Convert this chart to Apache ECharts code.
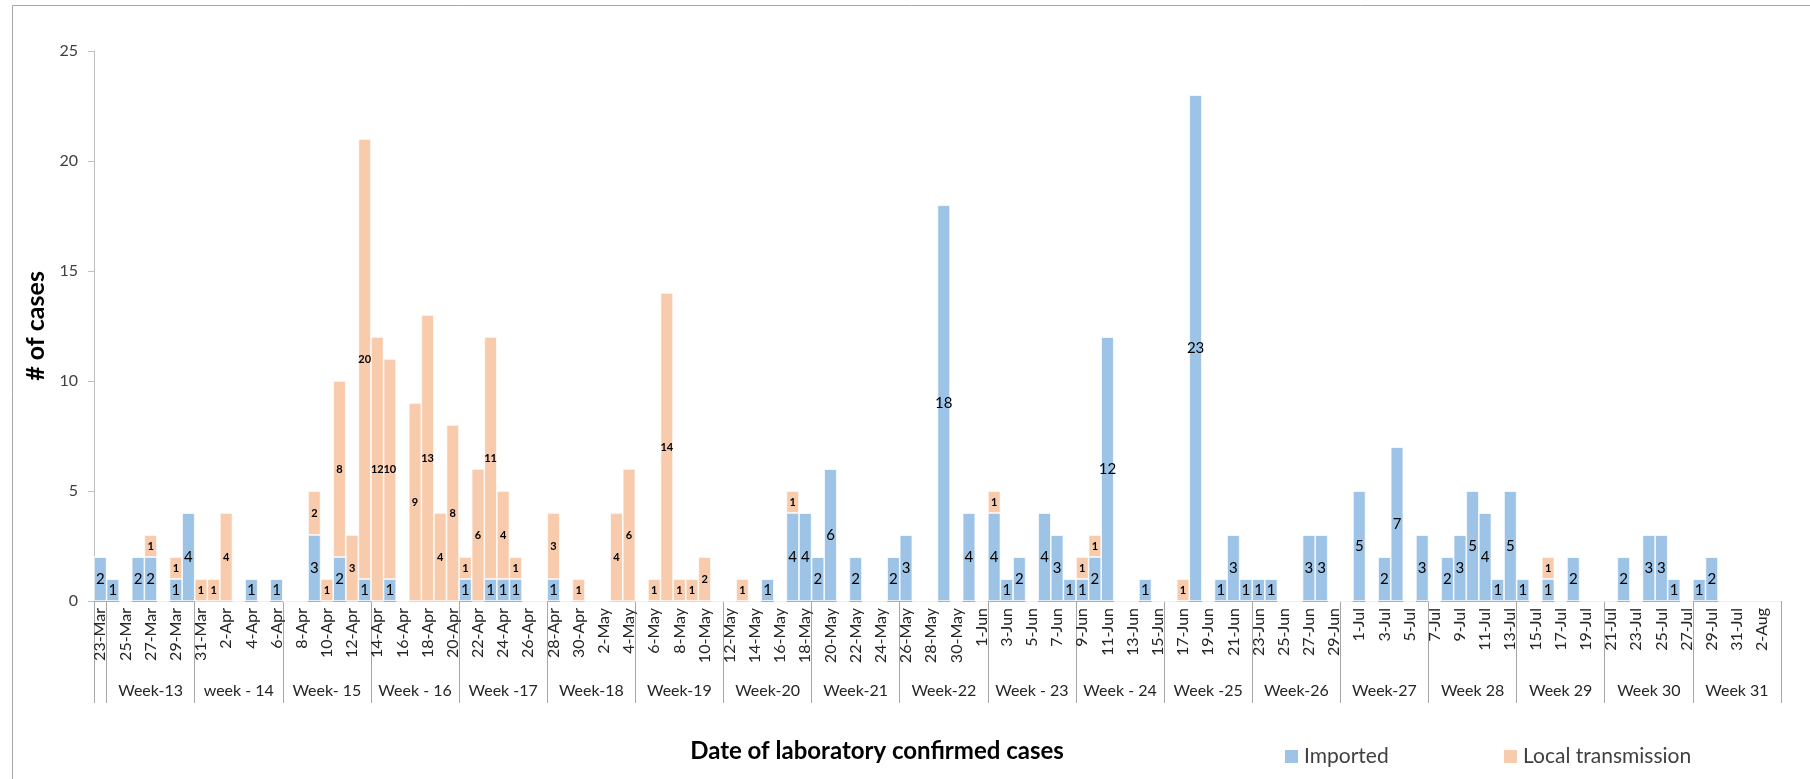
<!DOCTYPE html>
<html>
<head>
<meta charset="utf-8">
<script src="https://cdn.jsdelivr.net/npm/echarts@6/dist/echarts.min.js"></script>
<style>
html,body{margin:0;padding:0;background:#fff;}
#chart{width:1810px;height:779px;}
</style>
</head>
<body>
<div id="chart"></div>
<script>
// ---- DATA ----
var dayLabels = [
 '23-Mar','24-Mar','25-Mar','26-Mar','27-Mar','28-Mar','29-Mar','30-Mar','31-Mar',
 '1-Apr','2-Apr','3-Apr','4-Apr','5-Apr','6-Apr','7-Apr','8-Apr','9-Apr','10-Apr',
 '11-Apr','12-Apr','13-Apr','14-Apr','15-Apr','16-Apr','17-Apr','18-Apr','19-Apr','20-Apr',
 '21-Apr','22-Apr','23-Apr','24-Apr','25-Apr','26-Apr','27-Apr','28-Apr','29-Apr','30-Apr',
 '1-May','2-May','3-May','4-May','5-May','6-May','7-May','8-May','9-May','10-May',
 '11-May','12-May','13-May','14-May','15-May','16-May','17-May','18-May','19-May','20-May',
 '21-May','22-May','23-May','24-May','25-May','26-May','27-May','28-May','29-May','30-May','31-May',
 '1-Jun','2-Jun','3-Jun','4-Jun','5-Jun','6-Jun','7-Jun','8-Jun','9-Jun','10-Jun',
 '11-Jun','12-Jun','13-Jun','14-Jun','15-Jun','16-Jun','17-Jun','18-Jun','19-Jun','20-Jun',
 '21-Jun','22-Jun','23-Jun','24-Jun','25-Jun','26-Jun','27-Jun','28-Jun','29-Jun','30-Jun',
 '1-Jul','2-Jul','3-Jul','4-Jul','5-Jul','6-Jul','7-Jul','8-Jul','9-Jul','10-Jul',
 '11-Jul','12-Jul','13-Jul','14-Jul','15-Jul','16-Jul','17-Jul','18-Jul','19-Jul','20-Jul',
 '21-Jul','22-Jul','23-Jul','24-Jul','25-Jul','26-Jul','27-Jul','28-Jul','29-Jul','30-Jul','31-Jul',
 '1-Aug','2-Aug','3-Aug'
];
var imported = [
 2,1,0,2,2,0,1,4,0,
 0,0,0,1,0,1,0,0,3,0,
 2,0,1,0,1,0,0,0,0,0,
 1,0,1,1,1,0,0,1,0,0,
 0,0,0,0,0,0,0,0,0,0,
 0,0,0,0,1,0,4,4,2,6,
 0,2,0,0,2,3,0,0,18,0,4,
 0,4,1,2,0,4,3,1,1,2,
 12,0,0,1,0,0,0,23,0,1,
 3,1,1,1,0,0,3,3,0,0,
 5,0,2,7,0,3,0,2,3,5,
 4,1,5,1,0,1,0,2,0,0,
 0,2,0,3,3,1,0,1,2,0,0,
 0,0,0
];
var local = [
 0,0,0,0,1,0,1,0,1,
 1,4,0,0,0,0,0,0,2,1,
 8,3,20,12,10,0,9,13,4,8,
 1,6,11,4,1,0,0,3,0,1,
 0,0,4,6,0,1,14,1,1,2,
 0,0,1,0,0,0,1,0,0,0,
 0,0,0,0,0,0,0,0,0,0,0,
 0,1,0,0,0,0,0,0,1,1,
 0,0,0,0,0,0,1,0,0,0,
 0,0,0,0,0,0,0,0,0,0,
 0,0,0,0,0,0,0,0,0,0,
 0,0,0,0,0,1,0,0,0,0,
 0,0,0,0,0,0,0,0,0,0,0,
 0,0,0
];
var weekLabels = ['Week-13','week - 14','Week- 15','Week - 16','Week -17','Week-18','Week-19',
 'Week-20','Week-21','Week-22','Week - 23','Week - 24','Week -25','Week-26','Week-27',
 'Week 28','Week 29','Week 30','Week 31'];
var weekBounds = [0,1,8,15,22,29,36,43,50,57,64,71,78,85,92,99,106,113,120,127,134];
var yTicks = [0,5,10,15,20,25];

// ---- derived ----
var weekCenters = [];
for (var i = 0; i < weekLabels.length; i++) {
  weekCenters.push((weekBounds[i + 1] + weekBounds[i + 2]) / 2);
}

var FONT = 'Lato, "Open Sans", sans-serif';
var BLUE = '#9DC3E6', ORANGE = '#F8CBAD';
var chart = echarts.init(document.getElementById('chart'));
chart.setOption({
  animation: false,
  backgroundColor: '#fff',
  textStyle: { fontFamily: FONT },
  grid: { left: 94, right: 29, top: 51, bottom: 178 },
  legend: [
    { data: ['Imported'], left: 1278, top: 741, icon: 'rect', itemWidth: 15, itemHeight: 15,
      itemGap: 8, textStyle: { fontSize: 21, color: '#404040', fontFamily: FONT } },
    { data: ['Local transmission'], left: 1497, top: 741, icon: 'rect', itemWidth: 15, itemHeight: 15,
      itemGap: 8, textStyle: { fontSize: 21, color: '#404040', fontFamily: FONT } }
  ],
  xAxis: [
    {
      type: 'category', data: dayLabels, boundaryGap: true,
      axisLine: { lineStyle: { color: '#A6A6A6', width: 1 } },
      axisTick: { show: false },
      axisLabel: { interval: 1, rotate: 90, fontSize: 16, color: '#262626', margin: 7, fontFamily: FONT },
      splitLine: { show: false }
    },
    {
      type: 'value', min: 0, max: weekBounds[weekBounds.length - 1], position: 'bottom',
      axisLine: { show: false },
      splitLine: { show: false },
      axisTick: { show: true, customValues: weekBounds, length: 102, lineStyle: { color: '#A6A6A6', width: 1 } },
      axisLabel: {
        customValues: weekCenters, margin: 82, fontSize: 16, color: '#262626', fontFamily: FONT,
        formatter: function (v) {
          var k = weekCenters.indexOf(v);
          return k >= 0 ? weekLabels[k] : '';
        }
      }
    }
  ],
  yAxis: {
    type: 'value', min: yTicks[0], max: yTicks[yTicks.length - 1], interval: 5,
    name: '# of cases', nameLocation: 'middle', nameGap: 40, nameRotate: 90,
    nameTextStyle: { fontSize: 25, fontWeight: 'bold', color: '#000', fontFamily: FONT },
    axisLine: { show: true, lineStyle: { color: '#BFBFBF' } },
    axisTick: { show: true, length: 6, lineStyle: { color: '#BFBFBF' } },
    axisLabel: { fontSize: 16, color: '#404040', margin: 16, fontFamily: FONT },
    splitLine: { show: false }
  },
  series: [
    {
      name: 'Imported', type: 'bar', stack: 'cases', data: imported, xAxisIndex: 0,
      barCategoryGap: '0%',
      itemStyle: { color: BLUE, borderColor: '#fff', borderWidth: 0.7 },
      label: { show: true, position: 'inside', fontSize: 15, color: '#000', fontFamily: FONT,
        formatter: function (p) { return p.value > 0 ? String(p.value) : ''; } }
    },
    {
      name: 'Local transmission', type: 'bar', stack: 'cases', data: local, xAxisIndex: 0,
      barCategoryGap: '0%',
      itemStyle: { color: ORANGE, borderColor: '#fff', borderWidth: 0.7 },
      label: { show: true, position: 'inside', fontSize: 11, fontWeight: 'bold', color: '#000', fontFamily: FONT,
        formatter: function (p) { return p.value > 0 ? String(p.value) : ''; } }
    }
  ],
  graphic: [
    { type: 'polyline', silent: true, shape: { points: [[12.5, 779], [12.5, 5.5], [1810, 5.5]] },
      style: { fill: 'none', stroke: '#A6A6A6', lineWidth: 1 } },
    { type: 'text', x: 877, y: 751,
      style: { text: 'Date of laboratory confirmed cases', font: 'bold 24px ' + FONT, fill: '#000',
        align: 'center', verticalAlign: 'middle' } }
  ]
});
</script>
</body>
</html>
